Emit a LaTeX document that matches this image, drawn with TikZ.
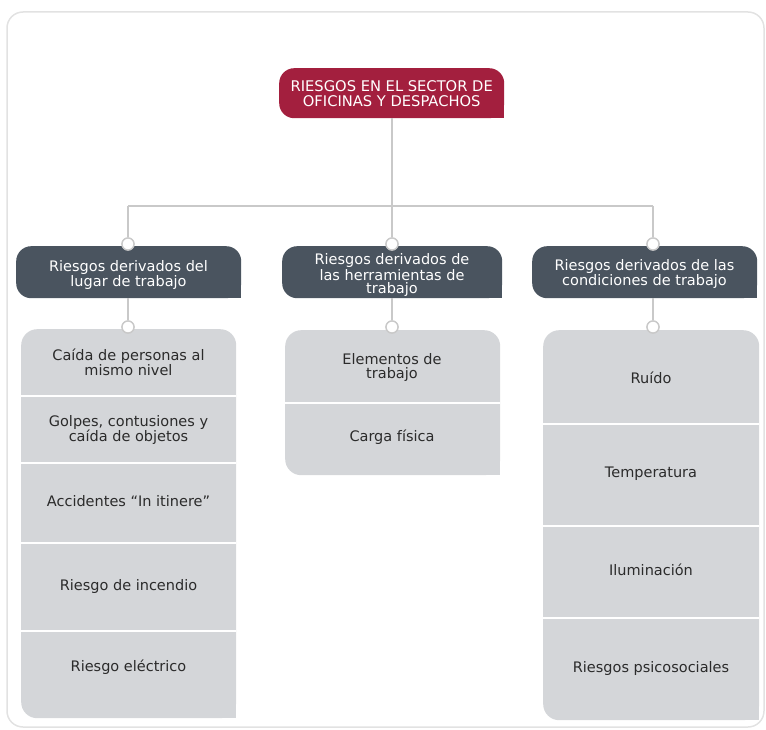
\documentclass[tikz,border=0pt]{standalone}
\usepackage{fontspec}
\setmainfont{DejaVu Sans}
\definecolor{crim}{HTML}{A31F3E}
\definecolor{slate}{HTML}{4A545F}
\definecolor{cellgray}{HTML}{D4D6D9}
\definecolor{linegray}{HTML}{C9C9C9}
\definecolor{framegray}{HTML}{E2E2E2}
\definecolor{txt}{HTML}{2B2B2B}
\begin{document}
\begin{tikzpicture}[x=1pt,y=-1pt,
  boxbase/.style={anchor=north west,inner sep=0pt,rounded corners=15pt},
  redbox/.style={boxbase,fill=crim,text=white},
  headbox/.style={boxbase,fill=slate,text=white},
  graybox/.style={boxbase,fill=cellgray,rounded corners=16pt},
  celltxt/.style={text=txt,align=center,font=\fontsize{14.5}{14}\selectfont},
  headtxt/.style={text=white,align=center,font=\fontsize{14.5}{13.5}\selectfont},
  conn/.style={draw=linegray,line width=1.5pt},
  knob/.style={circle,draw=linegray,fill=white,line width=1.3pt,minimum size=12pt,inner sep=0pt},
  divider/.style={draw=white,line width=2pt}
]
\useasboundingbox (0,0) rectangle (766,730);
% outer frame
\draw[framegray,line width=1.5pt,rounded corners=16pt] (7,12) rectangle (764,727);

% top red box
\node[redbox,minimum width=225pt,minimum height=50pt] (top) at (279,68) {};
\fill[crim] (top.south east) rectangle ++(-16,-16);
\node[headtxt,font=\fontsize{14.7}{15}\selectfont] (toptxt) at (top.center) {RIESGOS EN EL SECTOR DE\\OFICINAS Y DESPACHOS};

% header boxes
\node[headbox,minimum width=225pt,minimum height=52pt] (hl) at (16,246) {};
\fill[slate] (hl.south east) rectangle ++(-16,-16);
\node[headbox,minimum width=220pt,minimum height=52pt] (hm) at (282,246) {};
\fill[slate] (hm.south east) rectangle ++(-16,-16);
\node[headbox,minimum width=225pt,minimum height=52pt] (hr) at (532,246) {};
\fill[slate] (hr.south east) rectangle ++(-16,-16);
\node[headtxt] (hltxt) at (128.5,275) {Riesgos derivados del\\lugar de trabajo};
\node[headtxt,font=\fontsize{14.5}{13}\selectfont] (hmtxt) at (392,275) {Riesgos derivados de\\las herramientas de\\trabajo};
\node[headtxt] (hrtxt) at (644.5,274) {Riesgos derivados de las\\condiciones de trabajo};

% gray boxes
\node[graybox,minimum width=215pt,minimum height=389pt] (gl) at (21,329) {};
\fill[cellgray] (gl.south east) rectangle ++(-17,-17);
\node[graybox,minimum width=215pt,minimum height=145pt] (gm) at (285,330) {};
\fill[cellgray] (gm.south east) rectangle ++(-17,-17);
\node[graybox,minimum width=216pt,minimum height=390pt] (gr) at (543,330) {};
\fill[cellgray] (gr.south east) rectangle ++(-17,-17);

% dividers
\foreach \yy in {396,463,543,631} \draw[divider] (21,\yy) -- (236,\yy);
\draw[divider] (285,403) -- (500,403);
\foreach \yy in {424,526,618} \draw[divider] (543,\yy) -- (759,\yy);

% cell texts
\node[celltxt] (l1) at (128.5,362) {Caída de personas al\\mismo nivel};
\node[celltxt] (l2) at (128.5,430) {Golpes, contusiones y\\caída de objetos};
\node[celltxt] (l3) at (128.5,501) {Accidentes “In itinere”};
\node[celltxt] (l4) at (128.5,586) {Riesgo de incendio};
\node[celltxt] (l5) at (128.5,667) {Riesgo eléctrico};
\node[celltxt] (m1) at (392,367) {Elementos de\\trabajo};
\node[celltxt] (m2) at (392,437) {Carga física};
\node[celltxt] (r1) at (651,378) {Ruído};
\node[celltxt] (r2) at (651,474) {Temperatura};
\node[celltxt] (r3) at (651,570) {Iluminación};
\node[celltxt] (r4) at (651,668) {Riesgos psicosociales};

% connectors
\coordinate (jm) at (392,206);
\coordinate (jl) at (128,206);
\coordinate (jr) at (653,206);
\node[knob] (kl1) at (128,244) {};
\node[knob] (km1) at (392,244) {};
\node[knob] (kr1) at (653,244) {};
\node[knob] (kl2) at (128,327) {};
\node[knob] (km2) at (392,327) {};
\node[knob] (kr2) at (653,327) {};
\draw[conn] (top.south -| jm) -- (jm);
\draw[conn] (jl) -- (jr);
\draw[conn] (jl) -- (kl1.north);
\draw[conn] (jm) -- (km1.north);
\draw[conn] (jr) -- (kr1.north);
\draw[conn] (kl1 |- hl.south) -- (kl2.north);
\draw[conn] (km1 |- hm.south) -- (km2.north);
\draw[conn] (kr1 |- hr.south) -- (kr2.north);
% redraw knobs on top
\node[knob] at (kl1) {};
\node[knob] at (km1) {};
\node[knob] at (kr1) {};
\node[knob] at (kl2) {};
\node[knob] at (km2) {};
\node[knob] at (kr2) {};
\end{tikzpicture}
\end{document}
